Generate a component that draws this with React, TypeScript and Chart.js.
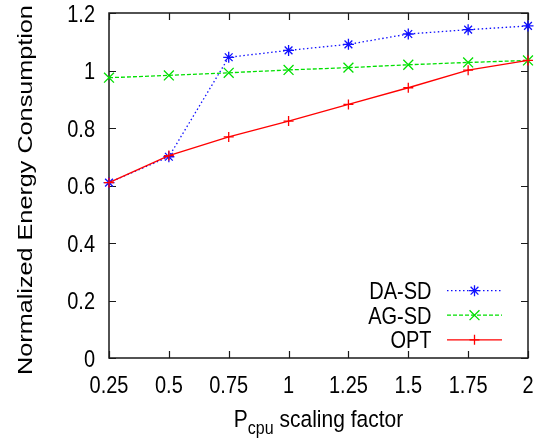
import React, { useEffect, useRef } from 'react';
import { Chart, registerables } from 'chart.js';

Chart.register(...registerables);

// ---- data ----
const xValues = [0.25, 0.5, 0.75, 1, 1.25, 1.5, 1.75, 2];
const daSd = [0.61, 0.70, 1.046, 1.070, 1.091, 1.127, 1.142, 1.155];
const agSd = [0.975, 0.983, 0.992, 1.002, 1.010, 1.020, 1.028, 1.035];
const opt = [0.61, 0.704, 0.769, 0.824, 0.882, 0.940, 1.001, 1.035];
const seriesNames = ['DA-SD', 'AG-SD', 'OPT'];
const xTitleMain = 'P';
const xTitleSub = 'cpu';
const xTitleRest = ' scaling factor';
const yTitle = 'Normalized Energy Consumption';

const FONT = "'Liberation Sans', Arial, Helvetica, sans-serif";
const COLORS = ['#1010ff', '#00e000', '#ff0000'];
const DASHES: number[][] = [[1.5, 2.5], [4, 2], []];
const STYLES = ['star', 'crossRot', 'cross'];
const RADII = [5.5, 7, 5];

const fmt = (v: number) => String(parseFloat(v.toFixed(4)));

function stretchText(
  ctx: CanvasRenderingContext2D,
  text: string,
  x: number,
  y: number,
  size: number,
  align: CanvasTextAlign,
  sx: number,
  sy: number
) {
  ctx.save();
  ctx.translate(x, y);
  ctx.scale(sx, sy);
  ctx.font = `${size}px ${FONT}`;
  ctx.textAlign = align;
  ctx.textBaseline = 'alphabetic';
  ctx.fillText(text, 0, 0);
  ctx.restore();
}

function drawMarker(ctx: CanvasRenderingContext2D, style: string, cx: number, cy: number, r: number) {
  ctx.beginPath();
  if (style === 'cross' || style === 'star') {
    ctx.moveTo(cx - r, cy);
    ctx.lineTo(cx + r, cy);
    ctx.moveTo(cx, cy - r);
    ctx.lineTo(cx, cy + r);
  }
  if (style === 'crossRot' || style === 'star') {
    const d = r * Math.SQRT1_2;
    ctx.moveTo(cx - d, cy - d);
    ctx.lineTo(cx + d, cy + d);
    ctx.moveTo(cx - d, cy + d);
    ctx.lineTo(cx + d, cy - d);
  }
  ctx.stroke();
}

const gnuplotPlugin = {
  id: 'gnuplotStyle',
  beforeDatasetsDraw(chart: any) {
    const { ctx, chartArea: a, scales } = chart;
    const xs = scales.x;
    const ys = scales.y;
    ctx.save();
    // frame
    ctx.strokeStyle = '#1a1a1a';
    ctx.lineWidth = 1.5;
    ctx.strokeRect(a.left, a.top, a.right - a.left, a.bottom - a.top);
    // inward ticks on all four sides
    ctx.lineWidth = 1.2;
    ctx.beginPath();
    xs.ticks.forEach((t: any) => {
      const px = Math.round(xs.getPixelForValue(t.value)) + 0.5;
      ctx.moveTo(px, a.bottom);
      ctx.lineTo(px, a.bottom - 7);
      ctx.moveTo(px, a.top);
      ctx.lineTo(px, a.top + 7);
    });
    ys.ticks.forEach((t: any) => {
      const py = Math.round(ys.getPixelForValue(t.value)) + 0.5;
      ctx.moveTo(a.left, py);
      ctx.lineTo(a.left + 7, py);
      ctx.moveTo(a.right, py);
      ctx.lineTo(a.right - 7, py);
    });
    ctx.stroke();

    // tick labels
    ctx.fillStyle = '#000';
    ys.ticks.forEach((t: any) => {
      const py = ys.getPixelForValue(t.value);
      stretchText(ctx, fmt(t.value), a.left - 14, py + 8.5, 20, 'right', 1, 1.19);
    });
    xs.ticks.forEach((t: any) => {
      const px = xs.getPixelForValue(t.value);
      stretchText(ctx, fmt(t.value), px, a.bottom + 35, 20, 'center', 1, 1.19);
    });

    // y title (rotated)
    ctx.save();
    ctx.translate(32, (a.top + a.bottom) / 2 + 4.5);
    ctx.rotate(-Math.PI / 2);
    ctx.scale(1.2, 1);
    ctx.font = `21px ${FONT}`;
    ctx.textAlign = 'center';
    ctx.textBaseline = 'alphabetic';
    ctx.fillText(yTitle, 0, 0);
    ctx.restore();

    // x title with subscript
    ctx.font = `21px ${FONT}`;
    const wP = ctx.measureText(xTitleMain).width;
    ctx.font = `16px ${FONT}`;
    const wSub = ctx.measureText(xTitleSub).width;
    ctx.font = `21px ${FONT}`;
    const wRest = ctx.measureText(xTitleRest).width;
    const total = wP + wSub + wRest;
    const cx = (a.left + a.right) / 2;
    const x0 = cx - total / 2;
    const base = a.bottom + 68.5;
    stretchText(ctx, xTitleMain, x0, base, 21, 'left', 1, 1.12);
    stretchText(ctx, xTitleSub, x0 + wP, base + 7.5, 16, 'left', 1, 1.12);
    stretchText(ctx, xTitleRest, x0 + wP + wSub, base, 21, 'left', 1, 1.12);
    ctx.restore();
  },
  afterDatasetsDraw(chart: any) {
    const { ctx } = chart;
    ctx.save();
    const rows = [290.7, 315.2, 339.8];
    chart.data.datasets.forEach((ds: any, i: number) => {
      const y = rows[i];
      ctx.fillStyle = '#000';
      stretchText(ctx, ds.label, 431.5, y + 8.6, 20, 'right', 1, 1.2);
      ctx.strokeStyle = COLORS[i];
      ctx.lineWidth = 1.3;
      ctx.setLineDash(DASHES[i]);
      ctx.beginPath();
      ctx.moveTo(447, y);
      ctx.lineTo(502, y);
      ctx.stroke();
      ctx.setLineDash([]);
      drawMarker(ctx, STYLES[i], 474.5, y, RADII[i]);
    });
    ctx.restore();
  },
};

export default function App() {
  const canvasRef = useRef<HTMLCanvasElement | null>(null);

  useEffect(() => {
    if (!canvasRef.current) return;
    const seriesValues = [daSd, agSd, opt];
    const chart = new Chart(canvasRef.current, {
      type: 'line',
      data: {
        datasets: seriesValues.map((vals, i) => ({
          label: seriesNames[i],
          data: xValues.map((x, j) => ({ x, y: vals[j] })),
          borderColor: COLORS[i],
          backgroundColor: COLORS[i],
          borderWidth: 1.3,
          borderDash: DASHES[i],
          pointStyle: STYLES[i] as any,
          pointRadius: RADII[i],
          pointBorderWidth: 1.3,
          pointBorderColor: COLORS[i],
          pointBackgroundColor: COLORS[i],
          pointHoverRadius: RADII[i],
          fill: false,
          tension: 0,
          clip: false as any,
          order: 2 - i,
        })),
      },
      options: {
        responsive: false,
        animation: false,
        events: [],
        layout: { padding: { left: 0, right: 18, top: 13, bottom: 0 } },
        plugins: {
          legend: { display: false },
          tooltip: { enabled: false },
          title: { display: false },
        },
        scales: {
          x: {
            type: 'linear',
            min: 0.25,
            max: 2,
            ticks: { display: false, stepSize: 0.25 },
            grid: { display: false },
            border: { display: false },
            afterFit: (scale: any) => {
              scale.height = 84;
            },
          },
          y: {
            type: 'linear',
            min: 0,
            max: 1.2,
            ticks: { display: false, stepSize: 0.2 },
            grid: { display: false },
            border: { display: false },
            afterFit: (scale: any) => {
              scale.width = 109;
            },
          },
        },
      },
      plugins: [gnuplotPlugin],
    });
    return () => chart.destroy();
  }, []);

  return (
    <div style={{ position: 'fixed', left: 0, top: 0, width: 546, height: 442, background: '#fff' }}>
      <canvas ref={canvasRef} width={546} height={442} style={{ width: 546, height: 442 }} />
    </div>
  );
}
